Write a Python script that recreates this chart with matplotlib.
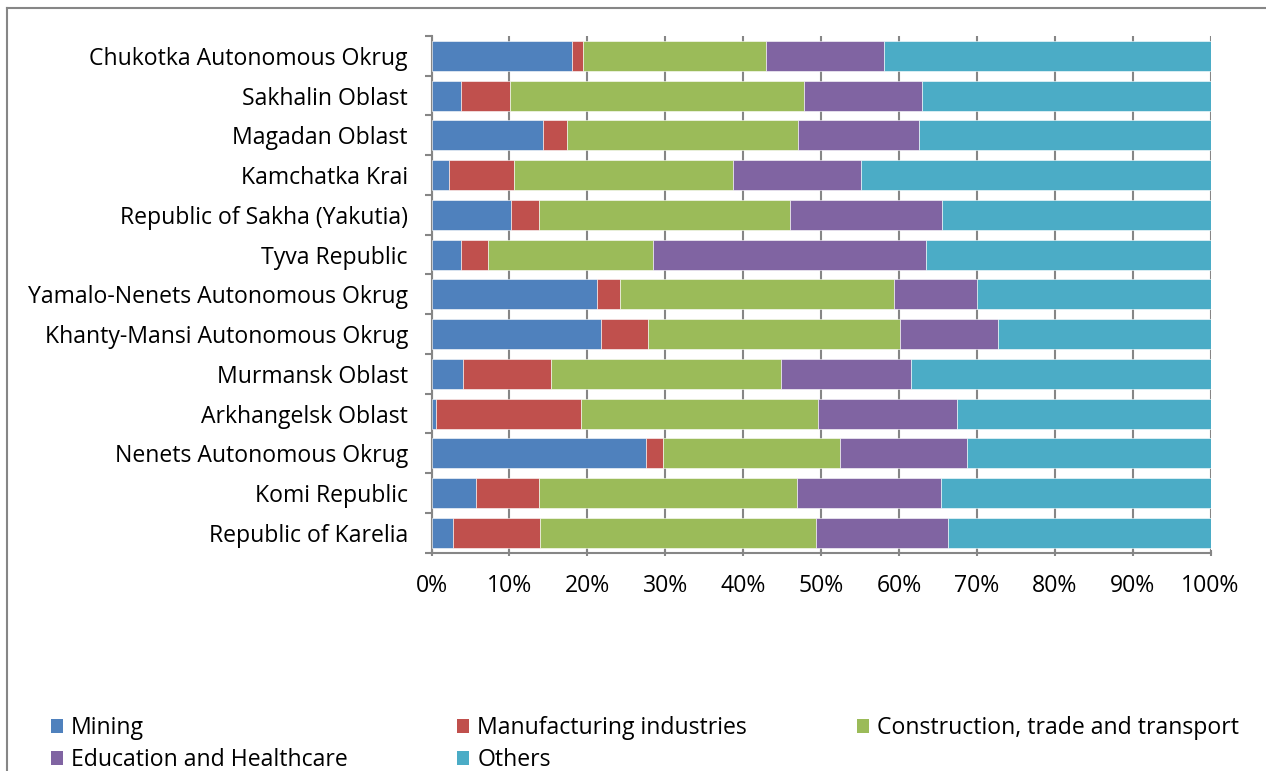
import matplotlib
matplotlib.use("Agg")
import matplotlib.pyplot as plt
from matplotlib.lines import Line2D
from matplotlib.patches import Patch
import numpy as np

plt.rcParams['font.family'] = ['Open Sans', 'DejaVu Sans']

# Data (bottom to top, as drawn)
regions = [
    "Republic of Karelia",
    "Komi Republic",
    "Nenets Autonomous Okrug",
    "Arkhangelsk Oblast",
    "Murmansk Oblast",
    "Khanty-Mansi Autonomous Okrug",
    "Yamalo-Nenets Autonomous Okrug",
    "Tyva Republic",
    "Republic of Sakha (Yakutia)",
    "Kamchatka Krai",
    "Magadan Oblast",
    "Sakhalin Oblast",
    "Chukotka Autonomous Okrug",
]
mining        = [2.7, 5.7, 27.5, 0.6, 4.0, 21.8, 21.3, 3.8, 10.2, 2.2, 14.3, 3.8, 18.0]
manufacturing = [11.2, 8.1, 2.2, 18.6, 11.3, 6.0, 2.9, 3.4, 3.6, 8.4, 3.1, 6.3, 1.4]
construction  = [35.4, 33.1, 22.7, 30.4, 29.6, 32.4, 35.2, 21.2, 32.2, 28.1, 29.7, 37.7, 23.6]
education     = [17.0, 18.5, 16.3, 17.9, 16.7, 12.5, 10.6, 35.1, 19.5, 16.4, 15.5, 15.2, 15.1]
others        = [33.7, 34.6, 31.3, 32.5, 38.4, 27.3, 30.0, 36.5, 34.5, 44.9, 37.4, 37.0, 41.9]

series_names = ["Mining", "Manufacturing industries", "Construction, trade and transport",
                "Education and Healthcare", "Others"]
colors = ["#4F81BD", "#C0504D", "#9BBB59", "#8064A2", "#4BACC6"]
xticks = [0, 10, 20, 30, 40, 50, 60, 70, 80, 90, 100]
xticklabels = ["0%", "10%", "20%", "30%", "40%", "50%", "60%", "70%", "80%", "90%", "100%"]

FS = 16.6
W, H = 1266, 771
fig = plt.figure(figsize=(W / 100, H / 100), dpi=100)
ax = fig.add_axes([431.5 / W, 1 - 552.7 / H, (1210.5 - 431.5) / W, (552.7 - 36) / H])

y = np.arange(len(regions))
left = np.zeros(len(regions))
tot = np.array(mining) + np.array(manufacturing) + np.array(construction) + np.array(education) + np.array(others)
for name, vals, c in zip(series_names, [mining, manufacturing, construction, education, others], colors):
    v = np.array(vals, dtype=float) / tot * 100
    ax.barh(y, v, left=left, height=0.755, color=c, edgecolor='white', linewidth=0.4, zorder=3, label=name)
    left += v

ax.set_xlim(0, 100)
ax.set_ylim(-0.5, len(regions) - 0.5)
ax.set_xticks(xticks)
ax.set_xticklabels(xticklabels, fontsize=FS)
ax.set_yticks(y)
ax.set_yticklabels(regions, fontsize=FS)
ax.set_yticks(np.arange(-0.5, len(regions), 1), minor=True)

ax.grid(axis='x', color='#868686', linewidth=1.5, zorder=0)
for s in ['top', 'right']:
    ax.spines[s].set_visible(False)
for s in ['left', 'bottom']:
    ax.spines[s].set_color('#868686')
    ax.spines[s].set_linewidth(1.5)
ax.tick_params(axis='y', which='major', length=0, pad=17, colors='black')
ax.tick_params(axis='y', which='minor', length=5, width=1.5, color='#868686')
ax.tick_params(axis='x', which='major', length=5, width=1.5, color='#868686', pad=13, direction='inout')

# Chart frame
fig.add_artist(Line2D([7 / W, 7 / W], [0, 1 - 8 / H], transform=fig.transFigure, color='#868686', linewidth=1.5))
fig.add_artist(Line2D([7 / W, 1], [1 - 8 / H, 1 - 8 / H], transform=fig.transFigure, color='#868686', linewidth=1.5))

order = [0, 3, 1, 4, 2]
leg_handles = [Patch(facecolor=colors[i], edgecolor='none') for i in order]
leg_labels = [series_names[i] for i in order]
fig.legend(leg_handles, leg_labels, ncol=3, loc='upper left', bbox_to_anchor=(51 / W, 1 - 716 / H),
           frameon=False, fontsize=FS, handlelength=0.52, handleheight=0.52, handletextpad=0.35,
           columnspacing=4.75, labelspacing=0.36, borderaxespad=0, borderpad=0)

fig.savefig("out.png", dpi=100)
